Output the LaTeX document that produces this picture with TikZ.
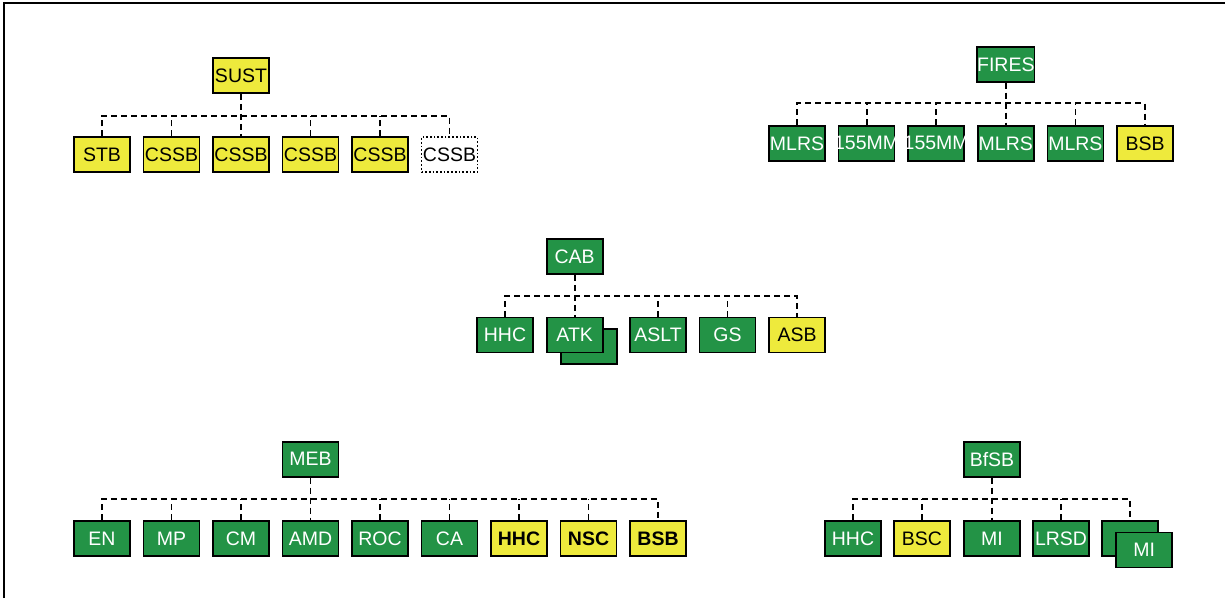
\documentclass[tikz,border=0pt]{standalone}
\usepackage{fontspec}
\setmainfont{Liberation Sans}
\definecolor{unitgreen}{HTML}{239346}
\definecolor{unityellow}{HTML}{EEEA3C}
\begin{document}
\begin{tikzpicture}[x=1pt,y=-1pt,
  box/.style={draw=black, line width=1.7pt, minimum width=56pt, minimum height=35pt,
    inner sep=0pt, font=\fontsize{19.5}{22}\selectfont},
  gbox/.style={box, fill=unitgreen, text=white},
  ybox/.style={box, fill=unityellow, text=black},
  dbox/.style={box, fill=white, dotted, text=black},
  conn/.style={line width=1.8pt, dash pattern=on 6pt off 4pt}]
\useasboundingbox (0,0) rectangle (1225,598);
% frame along top and left edges
\draw[line width=2pt] (4,598) -- (4,3) -- (1225,3);

% ---- SUST ----
\node[ybox] (sust) at (241,75.5) {SUST};
\coordinate (sustbus) at (241,115.7);
\foreach \x/\t [count=\i] in {102/STB,171.5/CSSB,241/CSSB,310.5/CSSB,380/CSSB}
  \node[ybox] (sust\i) at (\x,154.7) {\t};
\node[dbox] (sust6) at (449.5,154.7) {CSSB};
\draw[conn] (sust.south) -- (sust3.north);
\draw[conn] (sust1.north) -- (sust1.north |- sustbus) -- (sust6.north |- sustbus) -- (sust6.north);
\foreach \i in {2,4,5} \draw[conn] (sust\i.north) -- (sust\i.north |- sustbus);

% ---- FIRES ----
\node[gbox] (fires) at (1005.8,64.3) {FIRES};
\coordinate (firesbus) at (1005.8,103.3);
\foreach \x/\t [count=\i] in {797/MLRS,866.6/\makebox[0pt]{155MM},936.2/\makebox[0pt]{155MM},1005.8/MLRS,1075.4/MLRS}
  \node[gbox] (fires\i) at (\x,143.3) {\t};
\node[ybox] (fires6) at (1145,143.3) {BSB};
\draw[conn] (fires.south) -- (fires4.north);
\draw[conn] (fires1.north) -- (fires1.north |- firesbus) -- (fires6.north |- firesbus) -- (fires6.north);
\foreach \i in {2,3,5} \draw[conn] (fires\i.north) -- (fires\i.north |- firesbus);

% ---- CAB ----
\node[gbox] (cab) at (574.7,256.5) {CAB};
\coordinate (cabbus) at (574.7,296);
\node[gbox] (cab2b) at (588.7,346.8) {};
\foreach \x/\t [count=\i] in {505/HHC,574.7/ATK,658/ASLT,727.5/GS}
  \node[gbox] (cab\i) at (\x,335) {\t};
\node[ybox] (cab5) at (797,335) {ASB};
\draw[conn] (cab.south) -- (cab2.north);
\draw[conn] (cab1.north) -- (cab1.north |- cabbus) -- (cab5.north |- cabbus) -- (cab5.north);
\foreach \i in {3,4} \draw[conn] (cab\i.north) -- (cab\i.north |- cabbus);

% ---- MEB ----
\node[gbox] (meb) at (310.5,459.2) {MEB};
\coordinate (mebbus) at (310.5,499);
\foreach \x/\t [count=\i] in {102/EN,171.5/MP,241/CM,310.5/AMD,380/ROC,449.5/CA}
  \node[gbox] (meb\i) at (\x,538.5) {\t};
\foreach \x/\t [count=\i from 7] in {519/HHC,588.5/NSC,658/BSB}
  \node[ybox, font=\fontsize{19.5}{22}\selectfont\bfseries] (meb\i) at (\x,538.5) {\t};
\draw[conn] (meb.south) -- (meb4.north);
\draw[conn] (meb1.north) -- (meb1.north |- mebbus) -- (meb9.north |- mebbus) -- (meb9.north);
\foreach \i in {2,3,5,6,7,8} \draw[conn] (meb\i.north) -- (meb\i.north |- mebbus);

% ---- BfSB ----
\node[gbox] (bfsb) at (992,459.2) {BfSB};
\coordinate (bfsbbus) at (992,499);
\node[gbox] (bfsb1) at (853,538.5) {HHC};
\node[ybox] (bfsb2) at (922,538.5) {BSC};
\node[gbox] (bfsb3) at (992,538.5) {MI};
\node[gbox] (bfsb4) at (1061,538.5) {LRSD};
\node[gbox] (bfsb5) at (1130,538.5) {};
\node[gbox] (bfsb5f) at (1144.3,550) {MI};
\draw[conn] (bfsb.south) -- (bfsb3.north);
\draw[conn] (bfsb1.north) -- (bfsb1.north |- bfsbbus) -- (bfsb5.north |- bfsbbus) -- (bfsb5.north);
\foreach \i in {2,4} \draw[conn] (bfsb\i.north) -- (bfsb\i.north |- bfsbbus);
\end{tikzpicture}
\end{document}
